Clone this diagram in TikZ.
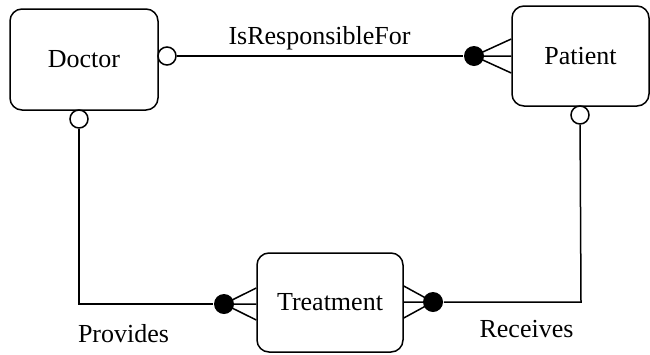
\documentclass[tikz,border=0pt]{standalone}
\usepackage{fontspec}
\setmainfont{Liberation Serif}
\begin{document}
\begin{tikzpicture}[x=1pt,y=-1pt,line width=1.5pt,
				every node/.style={font=\fontsize{26}{30}\selectfont},
				entity/.style={draw,rounded corners=12pt,minimum width=148pt,minimum height=101pt},
				opt/.style={draw,circle,fill=white,inner sep=0pt,minimum size=18pt},
				must/.style={circle,fill=black,inner sep=0pt,minimum size=20pt}]
\useasboundingbox (0,0) rectangle (650,354);
\node[entity] (doctor) at (84,59.5) {Doctor};
\node[entity,minimum width=137pt,minimum height=100pt] (patient) at (580.5,56) {Patient};
\node[entity,minimum width=146pt,minimum height=99pt] (treatment) at (330,302.5) {Treatment};
% ends of the relationships
\node[opt] (docR) at (167,56) {};
\node[opt] (docB) at (79,119) {};
\node[opt] (patB) at (580,115) {};
\node[must] (patL) at (474,56) {};
\node[must] (trtL) at (224,304) {};
\node[must] (trtR) at (433,302) {};
\coordinate (provC) at (79,304);
\coordinate (recvC) at (581,302);
% IsResponsibleFor
\draw (docR) -- (patL);
\draw (patL.center) -- ([yshift=17pt]patient.west)
	(patL.center) -- (patient.west)
	(patL.center) -- ([yshift=-17pt]patient.west);
% Provides
\draw (docB) -- (provC) -- (trtL);
\draw (trtL.center) -- ([yshift=16pt]treatment.west |- trtL)
	(trtL.center) -- (treatment.west |- trtL)
	(trtL.center) -- ([yshift=-16pt]treatment.west |- trtL);
% Receives
\draw (patB) -- (recvC) -- (trtR);
\draw (trtR.center) -- ([yshift=16pt]treatment.east |- trtR)
	(trtR.center) -- (treatment.east |- trtR)
	(trtR.center) -- ([yshift=-16pt]treatment.east |- trtR);
\node[anchor=base] (isresp) at (319.5,44) {IsResponsibleFor};
\node[anchor=base] (provides) at (123.5,342) {Provides};
\node[anchor=base] (receives) at (526.5,337) {Receives};
\end{tikzpicture}
\end{document}
